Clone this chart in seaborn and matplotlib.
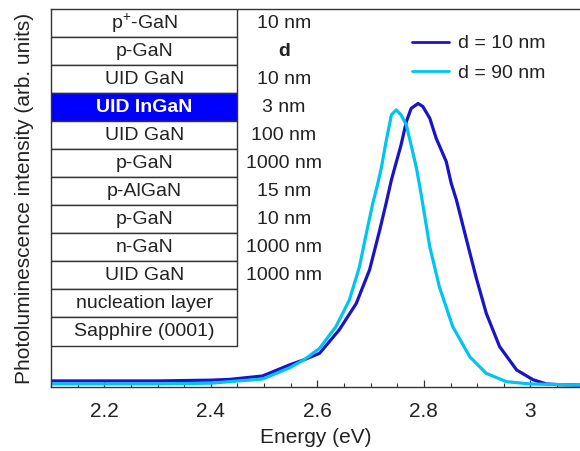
import numpy as np
import pandas as pd
import matplotlib
matplotlib.use("Agg")
import matplotlib.pyplot as plt
import seaborn as sns
from matplotlib.patches import Rectangle
from matplotlib.ticker import MultipleLocator

# ---------------------------------------------------------
# DATA
# ---------------------------------------------------------
energy_10 = [2.10, 2.20, 2.30, 2.40, 2.435, 2.497, 2.547, 2.575, 2.604, 2.641,
             2.673, 2.698, 2.717, 2.729, 2.739, 2.745, 2.757, 2.767, 2.776, 2.789,
             2.798, 2.811, 2.823, 2.842, 2.851, 2.861, 2.880, 2.898, 2.917, 2.942,
             2.974, 3.005, 3.030, 3.055, 3.093]
pl_10 = [0.016, 0.016, 0.016, 0.018, 0.020, 0.029, 0.058, 0.072, 0.089, 0.151,
         0.221, 0.310, 0.415, 0.486, 0.548, 0.579, 0.640, 0.702, 0.737, 0.750,
         0.742, 0.711, 0.658, 0.596, 0.540, 0.495, 0.389, 0.290, 0.195, 0.107,
         0.045, 0.019, 0.008, 0.006, 0.005]

energy_90 = [2.10, 2.20, 2.30, 2.40, 2.435, 2.497, 2.547, 2.575, 2.604, 2.635,
             2.660, 2.679, 2.692, 2.704, 2.712, 2.720, 2.729, 2.739, 2.748, 2.757,
             2.767, 2.776, 2.786, 2.795, 2.811, 2.829, 2.854, 2.886, 2.917, 2.955,
             2.999, 3.093]
pl_90 = [0.008, 0.008, 0.008, 0.010, 0.014, 0.021, 0.050, 0.072, 0.102, 0.160,
         0.230, 0.318, 0.407, 0.486, 0.530, 0.579, 0.650, 0.720, 0.733, 0.720,
         0.693, 0.640, 0.579, 0.508, 0.371, 0.265, 0.160, 0.080, 0.036, 0.014,
         0.008, 0.005]

series_names = ["d = 10 nm", "d = 90 nm"]
series_colors = ["#1a14c8", "#00c4f2"]

layer_names = ["p$^{+}$-GaN", "p-GaN", "UID GaN", "UID InGaN", "UID GaN", "p-GaN",
               "p-AlGaN", "p-GaN", "n-GaN", "UID GaN", "nucleation layer",
               "Sapphire (0001)"]
layer_thick = ["10 nm", "d", "10 nm", "3 nm", "100 nm", "1000 nm", "15 nm",
               "10 nm", "1000 nm", "1000 nm", "", ""]
active_layer = "UID InGaN"

# ---------------------------------------------------------
# STYLE
# ---------------------------------------------------------
sns.set_style("ticks")
plt.rcParams['font.family'] = ['Liberation Sans', 'DejaVu Sans']
plt.rcParams['mathtext.fontset'] = 'custom'
plt.rcParams['mathtext.rm'] = 'Liberation Sans'
TXT = '#222222'

df = pd.concat([
    pd.DataFrame({"Energy": energy_10, "PL": pl_10, "Sample": series_names[0]}),
    pd.DataFrame({"Energy": energy_90, "PL": pl_90, "Sample": series_names[1]}),
])

fig = plt.figure(figsize=(5.8, 4.51), dpi=100)
ax = fig.add_axes([0.088, 0.142, 0.912, 0.838])

sns.lineplot(data=df, x="Energy", y="PL", hue="Sample", palette=series_colors,
             linewidth=2.3, sort=False, ax=ax)

ax.set_xlim(2.1, 3.093)
ax.set_ylim(0, 1)
ax.set_yticks([])
ax.xaxis.set_minor_locator(MultipleLocator(0.05))
ax.set_xticks([2.2, 2.4, 2.6, 2.8, 3.0])
ax.set_xticklabels(["2.2", "2.4", "2.6", "2.8", "3"])
ax.tick_params(axis='x', which='major', direction='in', length=5, width=0.9,
               labelsize=15, pad=11, colors='#333333', labelcolor=TXT)
ax.tick_params(axis='x', which='minor', direction='in', length=3, width=0.8,
               colors='#333333')
for s in ['left', 'top', 'bottom']:
    ax.spines[s].set_color('#333333')
    ax.spines[s].set_linewidth(1.0)
ax.spines['right'].set_visible(False)

ax.set_xlabel("Energy (eV)", fontsize=15, labelpad=5, color=TXT)
ax.set_ylabel("Photoluminescence intensity (arb. units)", fontsize=15,
              labelpad=12, color=TXT)

# layer stack drawn inside the axes
row_h = 0.0742
col_w = 0.352
for i, (name, thick) in enumerate(zip(layer_names, layer_thick)):
    y0 = 1 - (i + 1) * row_h
    active = name == active_layer
    ax.add_patch(Rectangle((0, y0), col_w, row_h, transform=ax.transAxes,
                           facecolor='#0000ff' if active else 'white',
                           edgecolor='#333333', linewidth=1.0, zorder=3))
    ax.text(col_w / 2, y0 + row_h / 2, name, transform=ax.transAxes,
            ha='center', va='center', fontsize=14, zorder=4,
            color='white' if active else TXT,
            fontweight='bold' if active else 'normal')
    ax.text(0.44, y0 + row_h / 2, thick, transform=ax.transAxes,
            ha='center', va='center', fontsize=14, zorder=4, color=TXT,
            fontweight='bold' if thick == 'd' else 'normal')

leg = ax.legend(loc='upper left', bbox_to_anchor=(0.682, 0.932), frameon=False,
                fontsize=14, handlelength=1.9, handletextpad=0.46,
                labelspacing=0.62, borderpad=0, borderaxespad=0)
for line in leg.get_lines():
    line.set_linewidth(2.0)
for t in leg.get_texts():
    t.set_color(TXT)

fig.savefig("out.png", dpi=100)
